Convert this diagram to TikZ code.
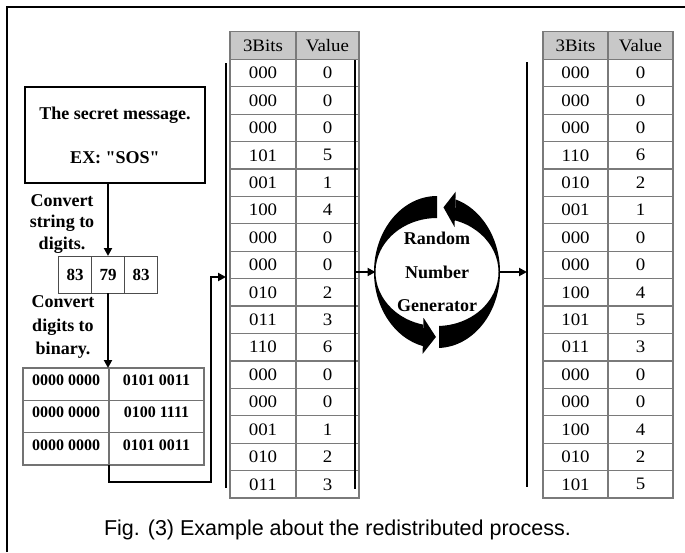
\documentclass[tikz,border=0pt]{standalone}
\usepackage{fontspec}
\setmainfont{Liberation Serif}
\newfontfamily\capfont{Liberation Sans}
\newfontfamily\cellfont[FakeStretch=1.08]{Liberation Serif}
\usetikzlibrary{arrows.meta}

\definecolor{tabgray}{HTML}{7A7A7A}
\definecolor{hdrgray}{HTML}{C8C8C8}

\tikzset{
  every node/.style={inner sep=0pt, outer sep=0pt},
  frameline/.style={line width=1.8pt, black},
  conn/.style={line width=2pt, black},
  arr/.style={conn, -{Triangle[length=8pt,width=8pt]}},
  bar/.style={line width=2.6pt, black},
  boldtxt/.style={font=\fontsize{18}{21.5}\selectfont\bfseries, align=center},
  msgbox/.style={draw, line width=1.8pt, minimum width=180pt, minimum height=96pt,
                 font=\fontsize{18}{44}\selectfont\bfseries, align=center},
  digcell/.style={draw=black!70, line width=1pt, minimum width=33pt, minimum height=37pt,
                  font=\fontsize{17}{20}\selectfont\bfseries},
  bincell/.style={draw=black!55, line width=1.1pt, minimum height=32.33pt,
                  text height=10.8pt, text depth=8pt,
                  font=\fontsize{16}{19}\selectfont\bfseries},
  tcell/.style={draw=tabgray, line width=1.2pt, minimum height=27.42pt,
                font=\fontsize{17.5}{20}\cellfont, text=black},
  thead/.style={tcell, fill=hdrgray, minimum height=27.6pt},
  rngtxt/.style={circle, minimum size=123pt, font=\fontsize{18}{33.5}\selectfont\bfseries, align=center},
}

\begin{document}
\begin{tikzpicture}[x=1pt, y=-1pt]
\useasboundingbox (0,0) rectangle (685,552);

% outer frame (left and top edges)
\draw[frameline] (7,552) -- (7,7) -- (685,7);

% secret message box
\node[msgbox] (msg) at (115,135) {The secret message.\\EX: \textquotedbl SOS\textquotedbl};

% first conversion step
\node[boldtxt] (conv1) at (62,224) {Convert\\string to\\digits.};
\node[digcell] (d1) at (75,274.5) {83};
\node[digcell] (d2) at (108,274.5) {79};
\node[digcell] (d3) at (141,274.5) {83};

% second conversion step
\node[boldtxt, font=\fontsize{18}{23.5}\selectfont\bfseries] (conv2) at (63,327) {Convert\\digits to\\binary.};
\foreach \l/\r [count=\i] in {0000 0000/0101 0011, 0000 0000/0100 1111, 0000 0000/0101 0011} {
  \pgfmathsetmacro\yy{368+(\i-0.5)*32.33}
  \node[bincell, minimum width=86pt] (bl\i) at (66,\yy) {\l};
  \node[bincell, minimum width=95pt] (br\i) at (156.5,\yy) {\r};
}

% bit table before redistribution
\node[thead, minimum width=66pt] (mh1) at (263,45.5) {3Bits};
\node[thead, minimum width=63pt] (mh2) at (327.5,45.5) {Value};
\foreach \b/\v [count=\i] in {000/0,000/0,000/0,101/5,001/1,100/4,000/0,000/0,
                              010/2,011/3,110/6,000/0,000/0,001/1,010/2,011/3} {
  \pgfmathsetmacro\yy{59.3+(\i-0.5)*27.42}
  \node[tcell, minimum width=66pt] (mb\i) at (263,\yy) {\b};
  \node[tcell, minimum width=63pt] (mv\i) at (327.5,\yy) {\v};
}

% bit table after redistribution
\node[thead, minimum width=65pt] (rh1) at (575.5,45.5) {3Bits};
\node[thead, minimum width=65pt] (rh2) at (640.5,45.5) {Value};
\foreach \b/\v [count=\i] in {000/0,000/0,000/0,110/6,010/2,001/1,000/0,000/0,
                              100/4,101/5,011/3,000/0,000/0,100/4,010/2,101/5} {
  \pgfmathsetmacro\yy{59.3+(\i-0.5)*27.42}
  \node[tcell, minimum width=65pt] (rb\i) at (575.5,\yy) {\b};
  \node[tcell, minimum width=65pt] (rv\i) at (640.5,\yy) {\v};
}

% vertical bars beside the tables
\draw[bar] (226,63) -- (226,488);
\draw[bar] (355,60) -- (355,489);
\draw[bar] (527,62) -- (527,487);

% random number generator with its two circular arrows
\node[rngtxt] (rng) at (437,272) {Random\\Number\\Generator};
\begin{scope}[shift={(rng.center)}]
  \fill (88:63 and 76) arc[start angle=88, end angle=-73, x radius=63, y radius=76]
        -- (-73:61.5 and 54) arc[start angle=-73, end angle=88, x radius=61.5, y radius=54] -- cycle;
  \fill (-73:64 and 84) -- (-84:62 and 65) -- (-73:60 and 47) -- cycle;
  \fill (270:63 and 76) arc[start angle=270, end angle=103, x radius=63, y radius=76]
        -- (103:61.5 and 54) arc[start angle=103, end angle=270, x radius=61.5, y radius=54] -- cycle;
  \fill (103:64 and 84) -- (91:62 and 65) -- (103:60 and 47) -- cycle;
\end{scope}

% connectors
\coordinate (bend) at (211,482);
\coordinate (inl) at (226,277);
\coordinate (outm) at (355,272);
\coordinate (inr) at (527,272);
\draw[arr] (msg.south -| d2.north) -- (d2.north);
\draw[arr] (d2.south) -- (d2.south |- bl1.north);
\draw[arr] (bl3.south east) |- (bend) |- (inl);
\draw[arr] (outm) -- (rng.west);
\draw[arr] (rng.east) -- (inr);

% caption
\node[font=\fontsize{21.5}{24}\capfont, anchor=base] (cap) at (337.5,535)
  {Fig. (3) Example about the redistributed process.};
\end{tikzpicture}
\end{document}
